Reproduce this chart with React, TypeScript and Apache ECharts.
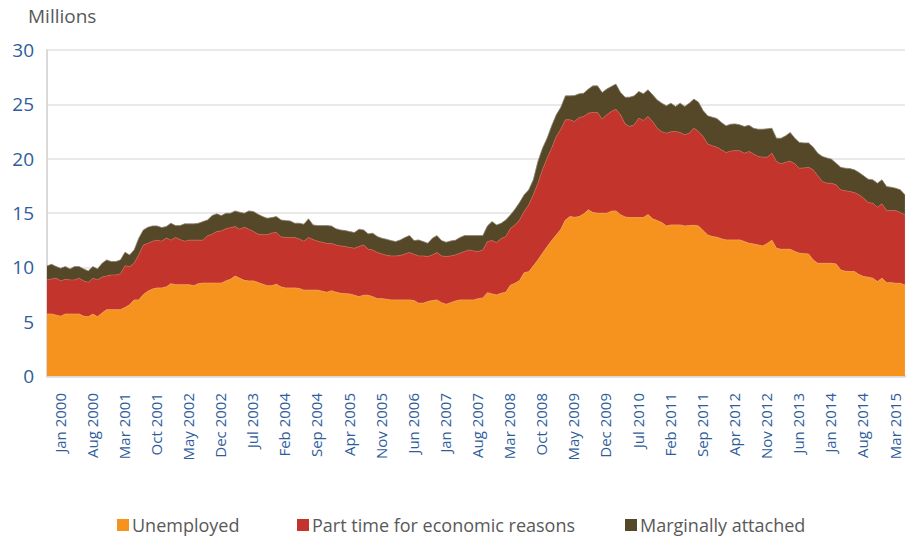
import React, { useEffect, useRef } from "react";
import * as echarts from "echarts";

const MONTH_NAMES = ["Jan","Feb","Mar","Apr","May","Jun","Jul","Aug","Sep","Oct","Nov","Dec"];
const START_YEAR = 2000;
const MONTH_COUNT = 188; // Jan 2000 .. Aug 2015

const unemployed = [
  5.71,5.70,5.60,5.50,5.70,5.70,5.70,5.70,5.50,5.45,5.70,5.45,
  5.80,6.10,6.10,6.10,6.10,6.30,6.55,7.00,7.00,7.50,7.80,8.00,
  8.10,8.10,8.20,8.50,8.40,8.40,8.40,8.40,8.30,8.50,8.55,8.55,
  8.55,8.55,8.55,8.75,8.90,9.20,9.00,8.80,8.75,8.75,8.60,8.45,
  8.30,8.30,8.45,8.20,8.10,8.10,8.10,8.05,7.90,7.90,7.90,7.90,
  7.80,7.70,7.85,7.70,7.61,7.58,7.55,7.43,7.30,7.43,7.43,7.30,
  7.12,7.12,7.06,7.00,7.00,7.00,7.00,7.00,6.94,6.70,6.70,6.85,
  6.94,7.00,6.75,6.60,6.75,6.90,7.00,7.00,7.00,7.00,7.12,7.18,
  7.67,7.55,7.46,7.61,7.70,8.35,8.53,8.78,9.50,9.60,10.13,10.68,
  11.30,11.90,12.46,12.98,13.50,14.36,14.67,14.60,14.67,14.92,15.29,15.04,
  14.98,14.98,14.98,15.16,15.19,14.85,14.63,14.58,14.58,14.58,14.58,14.86,
  14.46,14.30,14.12,13.81,13.90,13.90,13.90,13.81,13.84,13.87,13.81,13.38,
  12.98,12.83,12.77,12.62,12.52,12.52,12.52,12.52,12.37,12.22,12.15,12.06,
  11.97,12.20,12.50,11.76,11.66,11.66,11.66,11.45,11.30,11.26,11.23,10.68,
  10.37,10.37,10.37,10.37,10.31,9.76,9.64,9.61,9.61,9.33,9.15,9.09,
  9.00,8.69,9.00,8.59,8.59,8.53,8.53,8.38
];

const partTime = [
  3.13,3.23,3.40,3.25,3.20,3.14,3.14,3.30,3.25,3.17,3.30,3.39,
  3.30,3.10,3.20,3.20,3.30,3.85,3.50,3.40,4.15,4.55,4.40,4.40,
  4.40,4.30,4.50,4.00,4.35,4.15,4.00,4.10,4.20,4.00,3.95,4.35,
  4.50,4.75,4.80,4.80,4.75,4.55,4.50,4.90,4.75,4.55,4.45,4.55,
  4.70,4.85,4.75,4.60,4.65,4.65,4.65,4.55,4.50,4.85,4.65,4.50,
  4.50,4.50,4.35,4.35,4.36,4.33,4.27,4.33,4.61,4.63,4.23,4.30,
  4.24,4.11,4.05,4.05,4.05,4.08,4.23,4.36,4.26,4.35,4.35,4.14,
  4.20,4.36,4.30,4.39,4.30,4.24,4.30,4.45,4.60,4.51,4.33,4.42,
  4.70,4.91,4.82,5.04,5.13,5.22,5.37,5.58,5.63,6.15,6.54,7.06,
  7.67,8.14,8.50,9.06,9.21,9.21,8.90,8.82,9.12,8.96,8.90,9.21,
  9.27,8.65,9.05,9.18,9.36,9.18,8.57,8.38,8.53,9.15,8.93,9.02,
  8.96,8.51,8.35,8.54,8.57,8.60,8.51,8.38,8.51,8.93,8.69,8.66,
  8.38,8.35,8.29,8.19,8.04,8.17,8.23,8.20,8.13,8.44,8.29,8.14,
  8.17,7.94,8.00,7.98,7.86,8.01,8.11,8.07,7.82,7.89,7.98,8.29,
  8.05,7.52,7.37,7.37,7.28,7.37,7.40,7.36,7.27,7.34,7.21,6.87,
  6.90,6.84,6.84,6.63,6.63,6.69,6.51,6.45
];

const marginallyAttached = [
  1.29,1.35,1.07,1.16,1.17,1.01,1.23,1.07,1.10,1.05,1.07,1.01,
  1.27,1.48,1.23,1.23,1.28,1.24,1.09,1.20,1.53,1.39,1.49,1.41,
  1.31,1.26,1.05,1.56,1.09,1.29,1.60,1.50,1.50,1.56,1.71,1.46,
  1.71,1.62,1.41,1.43,1.33,1.44,1.57,1.28,1.69,1.83,1.84,1.67,
  1.52,1.43,1.47,1.56,1.55,1.52,1.31,1.46,1.57,1.71,1.35,1.44,
  1.54,1.64,1.60,1.50,1.47,1.47,1.47,1.44,1.59,1.38,1.42,1.54,
  1.47,1.45,1.47,1.41,1.32,1.44,1.51,1.56,1.26,1.47,1.32,1.23,
  1.54,1.56,1.41,1.32,1.38,1.35,1.44,1.47,1.32,1.41,1.47,1.32,
  1.44,1.75,1.62,1.41,1.53,1.25,1.45,1.60,1.54,1.38,1.38,2.00,
  1.99,1.84,2.06,1.99,2.03,2.21,2.21,2.39,2.18,2.15,2.21,2.45,
  2.45,2.46,2.37,2.30,2.31,2.07,2.45,2.70,2.67,2.45,2.46,2.46,
  2.46,2.60,2.64,2.51,2.64,2.30,2.70,2.61,2.76,2.68,2.70,2.39,
  2.58,2.64,2.64,2.52,2.46,2.48,2.45,2.39,2.46,2.42,2.36,2.51,
  2.57,2.61,2.30,2.14,2.36,2.43,2.64,2.36,2.37,2.30,2.24,2.09,
  2.08,2.31,2.33,2.21,1.99,2.08,2.08,2.12,2.09,2.05,2.06,2.15,
  2.15,2.21,2.21,2.21,2.15,2.06,2.09,1.84
];

const seriesNames = ["Unemployed", "Part time for economic reasons", "Marginally attached"];
const seriesColors = ["#F6921E", "#C2342C", "#544828"];
const lineColors = ["#F4A350", "#C9624F", "#8a8070"];
const legendLefts = [117, 297, 625];

const yTicks = [0, 5, 10, 15, 20, 25, 30];

function buildMonths(): string[] {
  const out: string[] = [];
  for (let i = 0; i < MONTH_COUNT; i++) {
    const y = START_YEAR + Math.floor(i / 12);
    out.push(MONTH_NAMES[i % 12] + " " + y);
  }
  return out;
}

export default function App() {
  const ref = useRef<HTMLDivElement>(null);

  useEffect(() => {
    document.body.style.margin = "0";
    if (!ref.current) return;
    const chart = echarts.init(ref.current, undefined, { renderer: "svg" });
    const months = buildMonths();
    const values = [unemployed, partTime, marginallyAttached];
    const font = "'Open Sans', 'Noto Sans', sans-serif";

    chart.setOption({
      animation: false,
      textStyle: { fontFamily: font },
      grid: { left: 47, right: 0, top: 50, bottom: 164, containLabel: false },
      graphic: [
        {
          type: "text",
          left: 28,
          top: 6,
          style: { text: "Millions", fontSize: 19, fill: "#595959", fontFamily: font },
        },
      ],
      legend: seriesNames.map((n, i) => ({
        data: [n],
        left: legendLefts[i],
        top: 516,
        padding: 0,
        icon: "rect",
        itemWidth: 12,
        itemHeight: 12,
        itemGap: 6,
        selectedMode: false,
        textStyle: { fontSize: 18, color: "#595959", fontFamily: font, padding: [0, 0, 0, -2] },
      })),
      xAxis: {
        type: "category",
        data: months,
        boundaryGap: false,
        axisLine: { show: true, lineStyle: { color: "#d9d9d9", width: 2.5 } },
        axisTick: { show: false },
        splitLine: { show: false },
        axisLabel: {
          interval: 6,
          rotate: 90,
          margin: 17,
          fontSize: 15,
          color: "#2F5C9C",
          fontFamily: font,
          verticalAlign: "top",
          lineHeight: 25,
        },
      },
      yAxis: {
        type: "value",
        min: yTicks[0],
        max: yTicks[yTicks.length - 1],
        interval: 5,
        axisLine: { show: true, lineStyle: { color: "#d9d9d9", width: 2 } },
        axisTick: { show: false },
        splitLine: { lineStyle: { color: "#e2e2e2", width: 1.5 } },
        axisLabel: { fontSize: 19, color: "#2F5C9C", margin: 13, fontFamily: font },
      },
      series: values.map((v, i) => ({
        name: seriesNames[i],
        type: "line",
        stack: "total",
        data: v,
        showSymbol: false,
        symbol: "none",
        itemStyle: { color: seriesColors[i] },
        lineStyle: { width: 0.8, color: lineColors[i] },
        areaStyle: { color: seriesColors[i], opacity: 1 },
        z: 2,
      })),
    });

    return () => chart.dispose();
  }, []);

  return <div ref={ref} style={{ width: 907, height: 540 }} />;
}
